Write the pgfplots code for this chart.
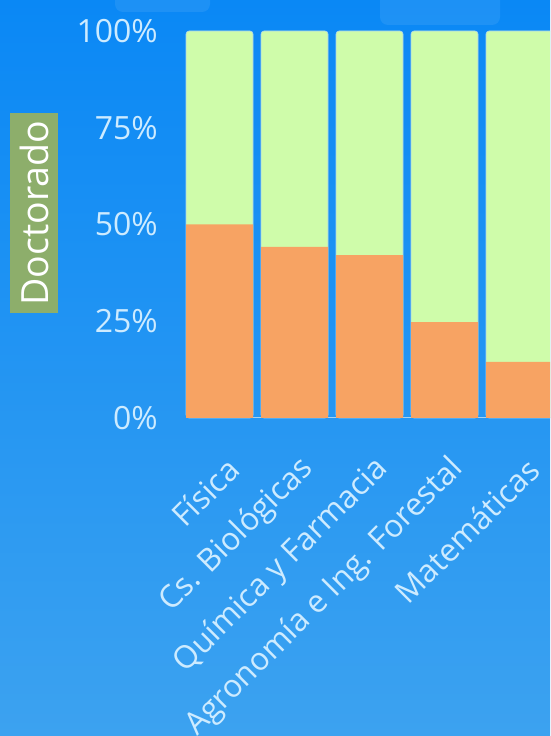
\documentclass[border=0pt]{standalone}
\usepackage{pgfplots}
\pgfplotsset{compat=1.18}
\usepackage{fontspec}
\setmainfont{Open Sans}
\definecolor{bgtop}{HTML}{0A88F5}
\definecolor{bgbot}{HTML}{3CA2F0}
\definecolor{lgreen}{HTML}{CFFCAA}
\definecolor{orng}{HTML}{F7A363}
\definecolor{ticklab}{HTML}{CDEBFF}
\definecolor{boxg}{HTML}{8DAE6B}
\definecolor{edge}{HTML}{A9D3EE}
\begin{document}
\begin{tikzpicture}
\useasboundingbox (0pt,0pt) rectangle (550pt,736pt);
\clip (0pt,0pt) rectangle (550pt,736pt);
\shade[top color=bgtop, bottom color=bgbot] (0pt,0pt) rectangle (550pt,736pt);
\fill[white, opacity=0.08, rounded corners=8pt] (115pt,724pt) rectangle (210pt,750pt);
\fill[white, opacity=0.08, rounded corners=8pt] (380pt,711pt) rectangle (500pt,750pt);
\node[fill=boxg, rotate=90, minimum width=200pt, minimum height=48pt, inner sep=0pt, text=white, font=\fontsize{37.5}{37.5}\selectfont] at (34pt,523pt) {Doctorado};
\begin{axis}[
  at={(186pt,318pt)}, anchor=south west,
  scale only axis, width=378.5pt, height=387pt,
  xmin=-0.447, xmax=4.6, ymin=0, ymax=100,
  axis x line*=bottom, axis y line*=left,
  x axis line style={draw=edge, line width=1pt, -},
  y axis line style={draw=none},
  tick style={draw=none}, major tick length=0pt,
  xtick={0,1,2,3,4},
  xticklabels={Física, Cs. Biológicas, Química y Farmacia, Agronomía e Ing. Forestal, Matemáticas},
  xticklabel style={xshift=14pt, yshift=-46pt, rotate=45, anchor=east, inner sep=0pt, text=ticklab, font=\fontsize{31.5}{31.5}\selectfont},
  ytick={0,25,50,75,100},
  yticklabels={0\%,25\%,50\%,75\%,100\%},
  yticklabel style={anchor=east, inner sep=0pt, xshift=-28pt, text=ticklab, font=\fontsize{32}{32}\selectfont},
  clip=false,
]
\addplot[ybar, bar width=67pt, bar shift=0pt, fill=lgreen, draw=edge, line width=0.6pt, rounded corners=3pt]
  coordinates {(0,100) (1,100) (2,100) (3,100) (4,100)};
\addplot[ybar, bar width=67pt, bar shift=0pt, fill=orng, draw=none]
  coordinates {(0,50) (1,44.2) (2,42.1) (3,24.8) (4,14.5)};
\end{axis}
\end{tikzpicture}
\end{document}
